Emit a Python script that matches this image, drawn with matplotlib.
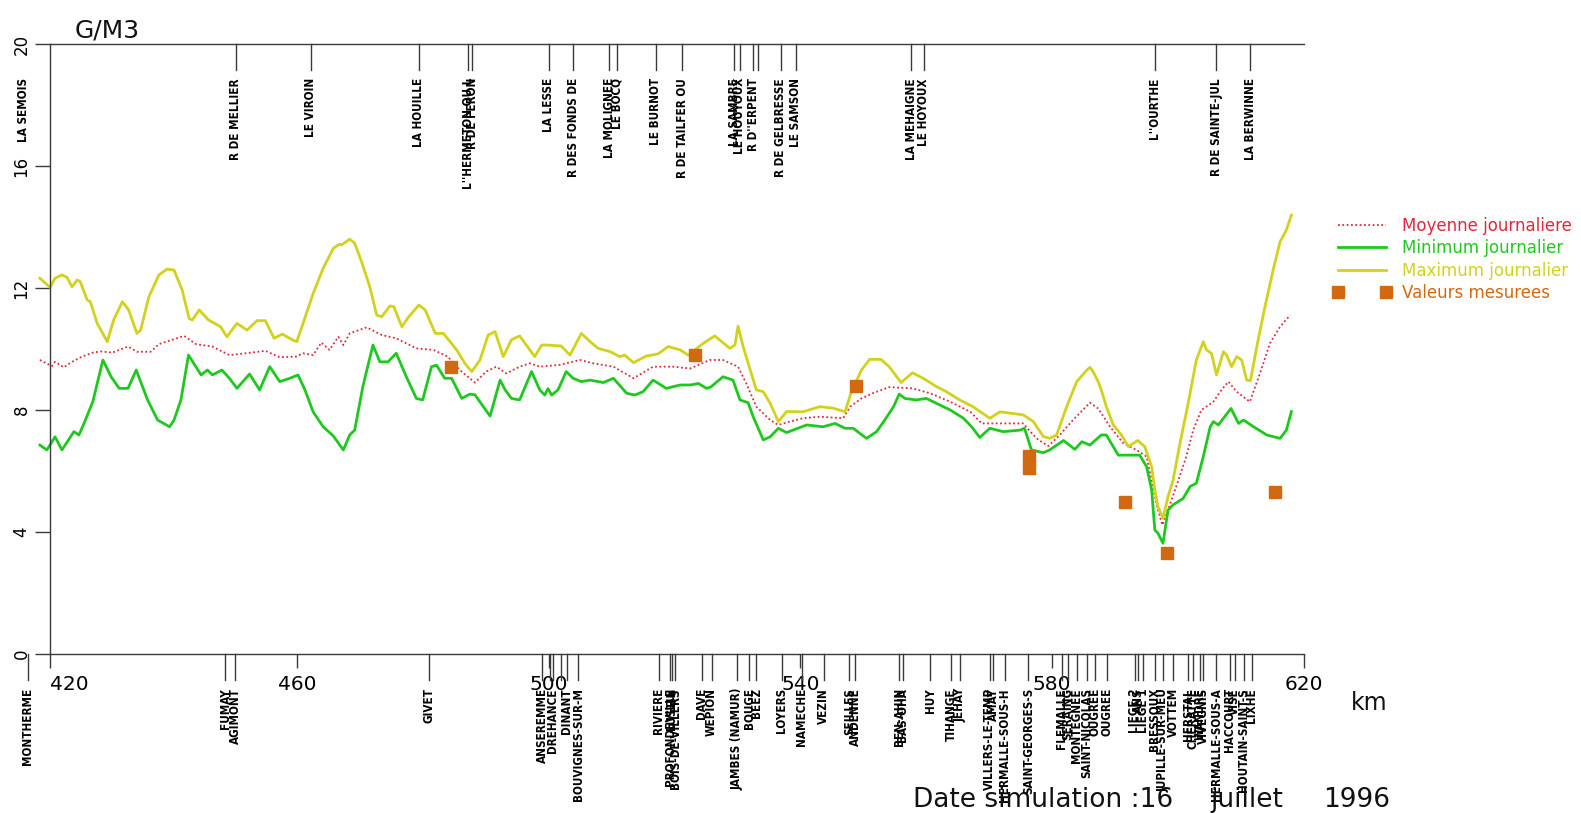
import matplotlib
matplotlib.use("Agg")
import matplotlib.pyplot as plt
import matplotlib.transforms as mtransforms
from matplotlib import font_manager
from matplotlib.font_manager import FontProperties

# ---------------------------------------------------------------- data
# Daily maximum concentration along the river (km, g/m3)
max_km = [419.2, 420.8, 421.6, 422.7, 423.5, 424.3, 425.1, 425.6, 426.7, 427.2,
          428.3, 429.9, 430.9, 432.3, 433.3, 434.6, 435.2, 436.5, 438.1, 439.4,
          440.5, 441.8, 442.9, 443.4, 444.5, 446.0, 447.9, 448.9, 450.5, 452.1,
          453.7, 455.0, 456.4, 457.7, 459.3, 460.0, 461.0, 462.6, 464.2, 465.8,
          466.8, 467.1, 468.4, 469.2, 470.3, 471.6, 472.7, 473.5, 474.8, 475.4,
          476.7, 477.8, 479.4, 480.4, 482.0, 483.3, 485.4, 486.7, 487.8, 489.1,
          490.4, 491.5, 492.8, 494.1, 495.4, 497.8, 498.9, 499.7, 502.0, 503.4,
          505.2, 506.6, 507.9, 509.8, 511.3, 512.1, 513.5, 515.5, 517.4, 519.0,
          520.9, 522.2, 524.6, 526.4, 527.5, 528.8, 529.6, 530.1, 530.9, 533.0,
          534.1, 535.2, 536.5, 537.8, 540.4, 543.1, 545.2, 547.1, 548.1, 549.7,
          551.0, 552.8, 554.1, 556.0, 557.8, 559.5, 561.6, 563.2, 565.3, 567.4,
          570.1, 571.7, 573.5, 575.4, 577.0, 578.6, 579.6, 580.7, 582.3, 583.9,
          585.5, 586.0, 586.5, 587.3, 587.8, 588.6, 589.7, 591.0, 592.1, 592.9,
          593.6, 594.7, 595.8, 596.3, 596.8, 597.6, 598.4, 599.2, 600.3, 601.6,
          602.9, 604.0, 604.5, 605.3, 606.1, 607.2, 607.7, 608.5, 609.3, 610.1,
          610.9, 611.5, 612.5, 613.8, 615.1, 616.2, 617.2, 618.0]
max_val = [12.32, 12.02, 12.32, 12.43, 12.35, 12.04, 12.26, 12.21, 11.61, 11.55,
           10.84, 10.24, 10.95, 11.55, 11.28, 10.51, 10.62, 11.71, 12.43, 12.62,
           12.59, 11.93, 11.00, 10.95, 11.28, 10.95, 10.73, 10.40, 10.84, 10.62,
           10.93, 10.93, 10.35, 10.49, 10.30, 10.24, 10.84, 11.82, 12.65, 13.30,
           13.44, 13.41, 13.60, 13.47, 12.86, 12.04, 11.11, 11.06, 11.41, 11.39,
           10.73, 11.06, 11.44, 11.28, 10.51, 10.51, 9.97, 9.53, 9.26, 9.64,
           10.46, 10.57, 9.75, 10.30, 10.43, 9.75, 10.13, 10.13, 10.10, 9.80,
           10.51, 10.24, 10.02, 9.91, 9.75, 9.80, 9.55, 9.77, 9.84, 10.08,
           9.97, 9.80, 10.19, 10.43, 10.24, 10.02, 10.13, 10.75, 10.08, 8.66,
           8.60, 8.22, 7.62, 7.95, 7.94, 8.11, 8.06, 7.94, 8.60, 9.31,
           9.66, 9.66, 9.42, 8.90, 9.22, 9.04, 8.77, 8.60, 8.33, 8.11,
           7.73, 7.94, 7.89, 7.84, 7.62, 7.13, 7.07, 7.18, 8.11, 8.93,
           9.31, 9.40, 9.26, 8.93, 8.66, 8.11, 7.51, 7.18, 6.80, 6.91,
           7.00, 6.80, 6.14, 5.38, 4.83, 4.45, 5.16, 5.70, 6.91, 8.22,
           9.64, 10.24, 9.97, 9.86, 9.15, 9.91, 9.80, 9.42, 9.75, 9.64,
           8.98, 8.96, 10.08, 11.39, 12.59, 13.52, 13.90, 14.39]

# Daily minimum concentration
min_km = [419.2, 420.3, 421.6, 422.7, 424.6, 425.4, 426.2, 427.6, 429.2, 430.5,
          431.8, 433.2, 434.5, 436.3, 437.9, 439.8, 440.5, 441.6, 442.8, 444.8,
          445.8, 446.6, 448.1, 449.3, 450.5, 452.5, 454.1, 455.7, 457.3, 458.9,
          460.2, 461.3, 462.6, 464.2, 465.8, 467.4, 468.4, 469.2, 470.5, 472.1,
          473.2, 474.5, 475.8, 477.4, 479.0, 480.0, 481.4, 482.2, 483.5, 484.6,
          486.2, 487.5, 488.3, 490.7, 492.3, 493.1, 494.1, 495.4, 497.3, 498.6,
          499.4, 499.9, 500.5, 501.5, 502.8, 503.9, 505.2, 506.6, 508.7, 510.3,
          512.4, 513.7, 515.0, 516.6, 518.7, 520.9, 522.5, 523.8, 525.1, 525.8,
          527.7, 529.3, 530.4, 531.7, 532.5, 534.1, 535.2, 536.5, 537.8, 541.0,
          543.6, 545.5, 547.1, 548.4, 550.5, 552.1, 553.4, 554.8, 555.7, 556.6,
          558.4, 560.0, 561.6, 563.8, 565.9, 567.2, 568.5, 570.1, 572.2, 574.9,
          575.6, 576.7, 578.6, 579.6, 581.8, 583.6, 584.7, 586.0, 587.8, 588.6,
          590.5, 591.8, 593.9, 595.0, 595.8, 596.3, 596.8, 597.6, 598.4, 599.2,
          600.8, 601.9, 602.9, 604.0, 605.1, 605.6, 606.4, 607.4, 608.4, 608.8,
          609.6, 610.4, 612.0, 614.1, 616.2, 617.2, 618.0]
min_val = [6.85, 6.69, 7.12, 6.69, 7.29, 7.18, 7.56, 8.27, 9.64, 9.09,
           8.71, 8.71, 9.31, 8.33, 7.67, 7.45, 7.67, 8.33, 9.80, 9.15,
           9.31, 9.15, 9.31, 9.04, 8.71, 9.18, 8.66, 9.42, 8.93, 9.04,
           9.15, 8.66, 7.94, 7.45, 7.15, 6.69, 7.18, 7.34, 8.77, 10.13,
           9.58, 9.58, 9.86, 9.09, 8.38, 8.33, 9.42, 9.47, 9.04, 9.04,
           8.38, 8.52, 8.50, 7.80, 8.98, 8.66, 8.38, 8.33, 9.26, 8.66,
           8.49, 8.70, 8.49, 8.66, 9.26, 9.04, 8.93, 8.98, 8.90, 9.04,
           8.55, 8.49, 8.60, 8.98, 8.71, 8.82, 8.82, 8.87, 8.71, 8.76,
           9.09, 8.98, 8.33, 8.24, 7.78, 7.02, 7.12, 7.40, 7.26, 7.51,
           7.45, 7.56, 7.40, 7.40, 7.07, 7.29, 7.67, 8.11, 8.52, 8.38,
           8.33, 8.38, 8.22, 8.00, 7.73, 7.45, 7.10, 7.40, 7.29, 7.34,
           7.40, 6.69, 6.60, 6.69, 7.00, 6.71, 6.96, 6.85, 7.18, 7.18,
           6.52, 6.52, 6.52, 6.14, 5.38, 4.07, 3.96, 3.63, 4.72, 4.89,
           5.10, 5.49, 5.60, 6.47, 7.45, 7.62, 7.51, 7.78, 8.05, 7.89,
           7.56, 7.67, 7.45, 7.18, 7.07, 7.34, 7.95]

# Daily mean concentration
mean_km = [419.2, 421.1, 421.6, 423.0, 424.3, 425.9, 427.6, 428.9, 430.7, 433.2,
           434.6, 436.8, 438.1, 440.2, 442.1, 444.0, 446.6, 449.3, 451.9, 455.0,
           457.3, 459.9, 461.0, 462.6, 463.9, 465.2, 466.6, 467.4, 468.4, 471.1,
           473.5, 475.8, 479.0, 481.7, 484.0, 485.9, 488.3, 490.1, 491.7, 493.3,
           495.4, 497.0, 498.6, 501.8, 505.0, 507.1, 510.3, 513.5, 516.6, 519.8,
           522.5, 525.6, 527.7, 530.1, 531.4, 533.0, 535.2, 536.5, 538.3, 540.4,
           543.1, 546.8, 547.9, 549.7, 551.5, 554.1, 557.8, 560.6, 563.8, 567.0,
           568.8, 572.2, 575.4, 576.5, 577.8, 579.4, 581.2, 583.3, 586.0, 587.3,
           589.2, 591.3, 593.4, 595.0, 596.1, 596.8, 597.5, 598.4, 599.7, 601.3,
           602.4, 603.7, 605.6, 606.9, 608.0, 609.3, 611.4, 613.0, 614.6, 616.2,
           617.8]
mean_val = [9.64, 9.44, 9.58, 9.40, 9.58, 9.75, 9.88, 9.92, 9.88, 10.08,
            9.91, 9.91, 10.16, 10.30, 10.43, 10.16, 10.08, 9.80, 9.86, 9.94,
            9.73, 9.75, 9.86, 9.80, 10.21, 9.97, 10.40, 10.13, 10.51, 10.71,
            10.46, 10.35, 10.02, 9.97, 9.75, 9.31, 8.90, 9.26, 9.42, 9.20,
            9.42, 9.53, 9.42, 9.48, 9.64, 9.53, 9.42, 9.04, 9.42, 9.42,
            9.36, 9.64, 9.64, 9.42, 8.87, 8.11, 7.67, 7.51, 7.62, 7.73,
            7.78, 7.73, 8.11, 8.38, 8.55, 8.75, 8.71, 8.55, 8.27, 7.94,
            7.56, 7.56, 7.56, 7.29, 7.02, 6.82, 7.18, 7.67, 8.24, 8.05,
            7.45, 6.91, 6.69, 6.47, 5.38, 4.72, 4.23, 4.72, 5.49, 6.47,
            7.34, 8.00, 8.27, 8.66, 8.93, 8.60, 8.27, 9.20, 10.19, 10.73,
            11.11]

# Measured values
meas_km = [484.5, 523.3, 548.8, 576.3, 576.3, 591.6, 598.3, 615.4]
meas_val = [9.40, 9.80, 8.79, 6.48, 6.11, 4.99, 3.30, 5.32]

# Tributaries (top axis)
trib_names = ["LA SEMOIS", "R DE MELLIER", "LE VIROIN", "LA HOUILLE",
              "L''HERMETON OU L", "R DE FERON", "LA LESSE", "R DES FONDS DE",
              "LA MOLIGNEE", "LE BOCQ", "LE BURNOT", "R DE TAILFER OU",
              "LA SAMBRE", "LE HOUYOUX", "R D''ERPENT", "",
              "R DE GELBRESSE", "LE SAMSON", "LA MEHAIGNE", "LE HOYOUX",
              "L''OURTHE", "R DE SAINTE-JUL", "LA BERWINNE"]
trib_km = [416.6, 450.3, 462.2, 479.4,
           487.2, 487.9, 500.0, 503.9,
           509.6, 510.9, 517.0, 521.2,
           529.5, 530.4, 532.5, 533.3,
           536.9, 539.3, 557.6, 559.6,
           596.3, 606.1, 611.5]

# Towns (bottom axis)
town_names = ["MONTHERME", "FUMAY", "AGIMONT", "GIVET",
              "ANSEREMME", "", "DREHANCE", "", "DINANT", "BOUVIGNES-SUR-M",
              "RIVIERE", "PROFONDEVILLE", "LUSTIN", "BOIS-DE-VILLERS",
              "DAVE", "WEPION", "JAMBES (NAMUR)", "BOUGE", "BEEZ",
              "LOYERS", "NAMECHE", "VEZIN", "SEILLES", "ANDENNE",
              "BEN-AHIN", "BAS-OHA", "HUY", "TIHANGE", "JEHAY",
              "VILLERS-LE-TEMP", "AMAY", "HERMALLE-SOUS-H", "SAINT-GEORGES-S",
              "FLEMALLE", "SERAING", "MONTEGNEE", "SAINT-NICOLAS", "OUGREE",
              "OUGREE", "LIEGE 2", "ANS", "LIEGE 1", "BRESSOUX",
              "JUPILLE-SUR-MEU", "VOTTEM", "HERSTAL", "CHERATTE", "WANDRE",
              "VIVEGNIS", "HERMALLE-SOUS-A", "HACCOURT", "VISE",
              "HOUTAIN-SAINT-S", "LIXHE"]
town_km = [417.3, 448.6, 450.2, 481.0,
           499.0, 500.3, 500.7, 501.9, 502.9, 504.7,
           517.5, 519.3, 519.6, 520.1,
           524.3, 525.9, 530.0, 531.9, 533.0,
           537.0, 540.2, 543.7, 547.8, 548.7,
           555.7, 556.3, 560.6, 564.0, 565.3,
           570.1, 570.6, 572.5, 576.2,
           581.5, 582.5, 583.9, 585.5, 586.8,
           588.7, 593.1, 593.7, 594.5, 596.3,
           597.6, 599.2, 601.6, 602.4, 603.5,
           604.0, 606.1, 608.2, 609.0,
           610.4, 611.7]

x_ticks = [460, 500, 540, 580, 620]
x_first_label = "420"
y_ticks = [0, 4, 8, 12, 16, 20]

labels = ["Moyenne journaliere", "Minimum journalier",
          "Maximum journalier", "Valeurs mesurees"]

# ---------------------------------------------------------------- style
C_MEAN = "#e0283c"
C_MIN = "#1fc81f"
C_MAX = "#d2d21c"
C_MEAS = "#d2680f"
C_AX = "#3a3a3a"


def narrow_font(size):
    """Pick a condensed sans face for the station names if one exists."""
    fonts = font_manager.fontManager.ttflist
    for f in fonts:
        if f.name == "Liberation Sans Narrow" and f.weight in ("bold", 700):
            return FontProperties(fname=f.fname, size=size)
    for f in fonts:
        if f.name == "Liberation Sans Narrow":
            return FontProperties(fname=f.fname, size=size)
    for f in fonts:
        if f.name == "DejaVu Sans" and f.stretch == "condensed" and f.weight in ("bold", 700):
            return FontProperties(fname=f.fname, size=size)
    for f in fonts:
        if f.name == "DejaVu Sans" and f.stretch == "condensed":
            return FontProperties(fname=f.fname, size=size)
    return FontProperties(family="Liberation Sans", size=size)


NAME_FONT = narrow_font(8.4)

W, H = 1581, 813
fig = plt.figure(figsize=(W / 100, H / 100), dpi=100)
ax = fig.add_axes([50 / W, (H - 654) / H, (1304 - 50) / W, (654 - 44) / H])
XMIN, XMAX = 420.8, 620.0
ax.set_xlim(XMIN, XMAX)
ax.set_ylim(0, 20)

l_mean, = ax.plot(mean_km, mean_val, color=C_MEAN, lw=1.3,
                  ls=(0, (1, 1.4)), clip_on=False)
l_min, = ax.plot(min_km, min_val, color=C_MIN, lw=2.0, clip_on=False)
l_max, = ax.plot(max_km, max_val, color=C_MAX, lw=2.0, clip_on=False)
l_meas, = ax.plot(meas_km, meas_val, ls="none", marker="s", ms=9.2,
                  color=C_MEAS, mec=C_MEAS, clip_on=False, zorder=5)

for side in ("left", "bottom", "top"):
    ax.spines[side].set_color(C_AX)
    ax.spines[side].set_linewidth(1.0)
ax.spines["right"].set_visible(False)

ax.set_yticks(y_ticks)
ax.set_yticklabels([str(v) for v in y_ticks], rotation=90, va="center",
                   fontsize=12, family="DejaVu Sans")
ax.tick_params(axis="y", length=11, width=1, color=C_AX, pad=3)

ax.set_xticks([XMIN] + x_ticks)
ax.set_xticklabels([x_first_label] + [str(v) for v in x_ticks],
                   fontsize=14.5, family="DejaVu Sans")
ax.get_xticklabels()[0].set_ha("left")
ax.tick_params(axis="x", length=10, width=1, color=C_AX, pad=5)

# location ticks and names
trans = mtransforms.blended_transform_factory(ax.transData, ax.transAxes)
TICK = 26 / 610
for name, km in zip(trib_names, trib_km):
    if km >= XMIN:
        ax.plot([km, km], [1, 1 - TICK], transform=trans, color=C_AX,
                lw=1, clip_on=False)
    ax.text(km, 1 - 34 / 610, name, rotation=90, ha="center", va="top",
            transform=trans, fontproperties=NAME_FONT, color="#000000")

for name, km in zip(town_names, town_km):
    ax.plot([km, km], [0, -TICK], transform=trans, color=C_AX,
            lw=1, clip_on=False)
    ax.text(km, -34 / 610, name, rotation=90, ha="center", va="top",
            transform=trans, fontproperties=NAME_FONT, color="#000000")

# legend
leg = fig.legend([l_mean, l_min, l_max, l_meas], labels, loc="upper left",
                 bbox_to_anchor=(1333 / W, 1 - 217 / H), frameon=False,
                 numpoints=2, handlelength=3.5, handletextpad=0.65,
                 labelspacing=0.26, fontsize=12, borderpad=0,
                 borderaxespad=0)
for txt, col in zip(leg.get_texts(), [C_MEAN, C_MIN, C_MAX, C_MEAS]):
    txt.set_color(col)

# titles and captions
fig.text(75 / W, 1 - 37 / H, "G/M3", fontsize=18, va="baseline",
         family="DejaVu Sans", color="#111111")
fig.text(1351 / W, 1 - 710 / H, "km", fontsize=17, va="baseline",
         family="DejaVu Sans", color="#111111")
fig.text(913 / W, 1 - 807 / H, "Date simulation :16", fontsize=19,
         va="baseline", family="DejaVu Sans", color="#111111")
fig.text(1210 / W, 1 - 807 / H, "juillet", fontsize=19,
         va="baseline", family="DejaVu Sans", color="#111111")
fig.text(1323 / W, 1 - 807 / H, "1996", fontsize=19,
         va="baseline", family="DejaVu Sans", color="#111111")

fig.savefig("out.png", dpi=100)
